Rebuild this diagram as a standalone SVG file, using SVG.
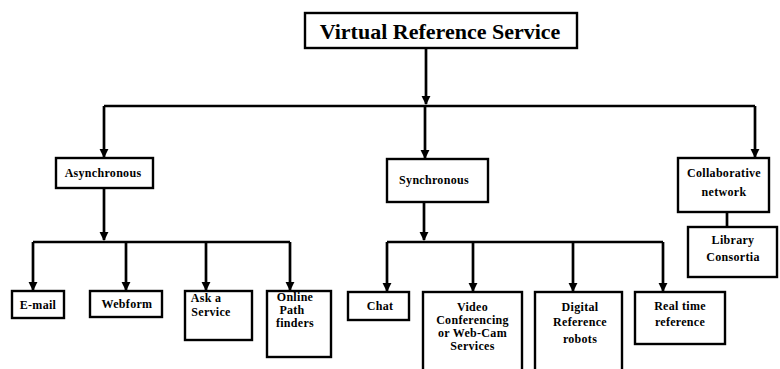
<svg xmlns="http://www.w3.org/2000/svg" width="780" height="369" viewBox="0 0 780 369">
<style>
.box{fill:#fff;stroke:#000;stroke-width:2.4}
.ln{fill:none;stroke:#000;stroke-width:2.7}
text{font-family:"Liberation Serif","Times New Roman",serif;font-weight:bold;fill:#000;text-anchor:middle}
.t{font-size:12px;letter-spacing:0.3px}
.title{font-size:22px}
</style>
<defs>
<marker id="ah" viewBox="0 0 10 10" refX="9" refY="5" markerWidth="3.4" markerHeight="3.4" orient="auto" markerUnits="strokeWidth">
<path d="M0,0 L10,5 L0,10 z" fill="#000"/>
</marker>
</defs>
<g id="connectors">
<path class="ln" d="M426,48 V104" marker-end="url(#ah)"/>
<path class="ln" d="M104,106 H755"/>
<path class="ln" d="M104,106 V157" marker-end="url(#ah)"/>
<path class="ln" d="M425,106 V158" marker-end="url(#ah)"/>
<path class="ln" d="M755,106 V157" marker-end="url(#ah)"/>
<path class="ln" d="M104,188 V240" marker-end="url(#ah)"/>
<path class="ln" d="M33,242 H290"/>
<path class="ln" d="M33,242 V290" marker-end="url(#ah)"/>
<path class="ln" d="M126,242 V290" marker-end="url(#ah)"/>
<path class="ln" d="M206,242 V290" marker-end="url(#ah)"/>
<path class="ln" d="M290,242 V290" marker-end="url(#ah)"/>
<path class="ln" d="M424,202 V240" marker-end="url(#ah)"/>
<path class="ln" d="M387,242 H663"/>
<path class="ln" d="M387,242 V291" marker-end="url(#ah)"/>
<path class="ln" d="M473,242 V291" marker-end="url(#ah)"/>
<path class="ln" d="M573,242 V291" marker-end="url(#ah)"/>
<path class="ln" d="M663,242 V291" marker-end="url(#ah)"/>
<path class="ln" d="M727,212 V227"/>
</g>
<g id="vrs"><rect class="box" x="305" y="13" width="272" height="35"/><text class="title" x="440" y="39">Virtual Reference Service</text></g>
<g id="async"><rect class="box" x="56" y="158" width="97" height="30"/><text class="t" x="103" y="177">Asynchronous</text></g>
<g id="sync"><rect class="box" x="387" y="159" width="101" height="43"/><text class="t" x="434" y="184">Synchronous</text></g>
<g id="collab"><rect class="box" x="678" y="158" width="91" height="54"/><text class="t" x="724" y="177">Collaborative</text><text class="t" x="724" y="196">network</text></g>
<g id="consortia"><rect class="box" x="688" y="227" width="89" height="50"/><text class="t" x="733" y="244">Library</text><text class="t" x="733" y="261">Consortia</text></g>
<g id="email"><rect class="box" x="12" y="291" width="52" height="27"/><text class="t" x="38" y="309">E-mail</text></g>
<g id="webform"><rect class="box" x="90" y="291" width="72" height="26"/><text class="t" x="127" y="308">Webform</text></g>
<g id="ask"><rect class="box" x="185" y="291" width="67" height="49"/><text class="t" x="206" y="302">Ask a</text><text class="t" x="211" y="316">Service</text></g>
<g id="pathfinders"><rect class="box" x="267" y="291" width="64" height="66"/><text class="t" x="295" y="301">Online</text><text class="t" x="292" y="314">Path</text><text class="t" x="295" y="327">finders</text></g>
<g id="chat"><rect class="box" x="348" y="292" width="61" height="28"/><text class="t" x="380" y="310">Chat</text></g>
<g id="video"><rect class="box" x="423" y="292" width="99" height="80"/><text class="t" x="472.5" y="311">Video</text><text class="t" x="472.5" y="324">Conferencing</text><text class="t" x="472.5" y="337">or Web-Cam</text><text class="t" x="472.5" y="350">Services</text></g>
<g id="robots"><rect class="box" x="535" y="292" width="87" height="80"/><text class="t" x="580" y="311">Digital</text><text class="t" x="580" y="326">Reference</text><text class="t" x="580" y="343">robots</text></g>
<g id="realtime"><rect class="box" x="635" y="292" width="90" height="52"/><text class="t" x="680" y="310">Real time</text><text class="t" x="680" y="326">reference</text></g>
</svg>
